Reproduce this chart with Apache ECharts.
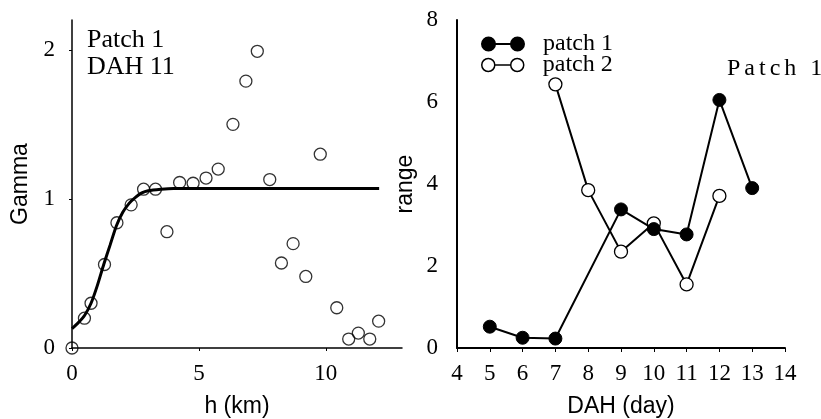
<!DOCTYPE html>
<html>
<head>
<meta charset="utf-8">
<script src="https://cdn.jsdelivr.net/npm/echarts@6/dist/echarts.min.js"></script>
<style>html,body{margin:0;padding:0;background:#fff}#c{width:821px;height:419px}</style>
</head>
<body>
<div id="c"></div>
<script>
// Left panel: semivariogram (h in km, gamma)
const hKm = [0, 0.49, 0.75, 1.28, 1.77, 2.33, 2.82, 3.29, 3.74, 4.24, 4.77, 5.28, 5.76, 6.34, 6.85, 7.30, 7.79, 8.25, 8.71, 9.21, 9.78, 10.43, 10.90, 11.28, 11.73, 12.08];
const gamma = [0, 0.20, 0.30, 0.56, 0.84, 0.96, 1.065, 1.065, 0.78, 1.11, 1.105, 1.14, 1.20, 1.50, 1.79, 1.99, 1.13, 0.57, 0.70, 0.48, 1.30, 0.27, 0.06, 0.10, 0.06, 0.18];
const fitH = [0, 0.25, 0.5, 0.75, 1.0, 1.25, 1.5, 1.75, 2.0, 2.25, 2.5, 2.75, 3.0, 3.5, 4.0, 12.1];
const fitGamma = [0.13, 0.17, 0.22, 0.30, 0.42, 0.56, 0.69, 0.82, 0.91, 0.97, 1.01, 1.04, 1.055, 1.065, 1.07, 1.07];
const leftXTicks = [0, 5, 10];
const leftYTicks = [0, 1, 2];

// Right panel: range by DAH
const days1 = [5, 6, 7, 9, 10, 11, 12, 13];
const range1 = [0.52, 0.25, 0.23, 3.38, 2.90, 2.77, 6.05, 3.90];
const days2 = [7, 8, 9, 10, 11, 12];
const range2 = [6.43, 3.85, 2.35, 3.04, 1.55, 3.71];
const rightXTicks = [4, 5, 6, 7, 8, 9, 10, 11, 12, 13, 14];
const rightYTicks = [0, 2, 4, 6, 8];

const SERIF = 'Liberation Serif';
const SANS = 'Liberation Sans';
const zip = (a, b) => a.map((v, i) => [v, b[i]]);
const HS = '\u200A';

const iconPath = 'path://M2,20A18,18 0 1,0 38,20A18,18 0 1,0 2,20Z M82,20A18,18 0 1,0 118,20A18,18 0 1,0 82,20Z M38,20L82,20';

const chart = echarts.init(document.getElementById('c'), null, {renderer: 'canvas'});
chart.setOption({
  animation: false,
  backgroundColor: '#fff',
  grid: [
    {left: 72, top: 20, width: 330, height: 328, outerBoundsMode: 'none', containLabel: false},
    {left: 457, top: 20, width: 328, height: 328, outerBoundsMode: 'none', containLabel: false}
  ],
  xAxis: [
    {
      gridIndex: 0, type: 'value', min: 0, max: 13,
      name: 'h (km)', nameLocation: 'middle', nameGap: 47,
      nameTextStyle: {fontFamily: SANS, fontSize: 23, color: '#000'},
      axisLine: {lineStyle: {color: '#000', width: 1.5}},
      axisTick: {show: true, length: 3, customValues: leftXTicks, lineStyle: {color: '#000'}},
      axisLabel: {customValues: leftXTicks, fontFamily: SERIF, fontSize: 23, color: '#000', margin: 14},
      splitLine: {show: false}
    },
    {
      gridIndex: 1, type: 'value', min: 4, max: 14, interval: 1,
      name: 'DAH (day)', nameLocation: 'middle', nameGap: 47,
      nameTextStyle: {fontFamily: SANS, fontSize: 23, color: '#000'},
      axisLine: {lineStyle: {color: '#000', width: 2}},
      axisTick: {show: true, length: 4, customValues: rightXTicks, lineStyle: {color: '#000'}},
      axisLabel: {customValues: rightXTicks, fontFamily: SERIF, fontSize: 23, color: '#000', margin: 14},
      splitLine: {show: false}
    }
  ],
  yAxis: [
    {
      gridIndex: 0, type: 'value', min: 0, max: 2.2,
      name: 'Gamma', nameLocation: 'middle', nameGap: 40,
      nameTextStyle: {fontFamily: SANS, fontSize: 23, color: '#000'},
      axisLine: {show: true, lineStyle: {color: '#000', width: 1.5}},
      axisTick: {show: true, length: 3, customValues: leftYTicks, lineStyle: {color: '#000'}},
      axisLabel: {customValues: leftYTicks, fontFamily: SERIF, fontSize: 23, color: '#000', margin: 17},
      splitLine: {show: false}
    },
    {
      gridIndex: 1, type: 'value', min: 0, max: 8, interval: 2,
      name: 'range', nameLocation: 'middle', nameGap: 40,
      nameTextStyle: {fontFamily: SANS, fontSize: 23, color: '#000'},
      axisLine: {show: true, lineStyle: {color: '#000', width: 2}},
      axisTick: {show: false},
      axisLabel: {customValues: rightYTicks, fontFamily: SERIF, fontSize: 23, color: '#000', margin: 19},
      splitLine: {show: false}
    }
  ],
  legend: [
    {
      left: 476, top: 27, orient: 'vertical', itemWidth: 42, itemHeight: 14,
      textStyle: {fontFamily: SERIF, fontSize: 24, color: '#000', lineHeight: 24, padding: [0, 0, 0, 14]},
      data: [{name: 'patch 1', icon: iconPath, itemStyle: {color: '#000', borderColor: '#000', borderWidth: 2}}],
      selectedMode: false
    },
    {
      left: 476, top: 48, orient: 'vertical', itemWidth: 42, itemHeight: 14,
      textStyle: {fontFamily: SERIF, fontSize: 24, color: '#000', lineHeight: 24, padding: [0, 0, 0, 14]},
      data: [{name: 'patch 2', icon: iconPath, itemStyle: {color: '#fff', borderColor: '#000', borderWidth: 1.5}}],
      selectedMode: false
    }
  ],
  graphic: [
    {type: 'text', left: 87, top: 27, style: {text: 'Patch 1', font: '26px "Liberation Serif"', fill: '#000'}},
    {type: 'text', left: 87, top: 54, style: {text: 'DAH 11', font: '26px "Liberation Serif"', fill: '#000'}},
    {type: 'text', left: 727, top: 57, style: {text: ['P','a','t','c','h',' ','1'].join(HS + HS), font: '24px "Liberation Serif"', fill: '#000'}}
  ],
  series: [
    {
      name: 'observed', type: 'scatter', xAxisIndex: 0, yAxisIndex: 0,
      data: zip(hKm, gamma), symbol: 'circle', symbolSize: 12,
      itemStyle: {color: 'rgba(0,0,0,0)', borderColor: '#000', borderWidth: 1.3}, z: 2
    },
    {
      name: 'fit', type: 'line', xAxisIndex: 0, yAxisIndex: 0,
      data: zip(fitH, fitGamma), showSymbol: false, symbol: 'none',
      smooth: 0.25,
      lineStyle: {color: '#000', width: 3}, z: 3
    },
    {
      name: 'patch 2', type: 'line', xAxisIndex: 1, yAxisIndex: 1,
      data: zip(days2, range2), symbol: 'circle', symbolSize: 13,
      itemStyle: {color: '#fff', borderColor: '#000', borderWidth: 1.3},
      lineStyle: {color: '#000', width: 2}, z: 2
    },
    {
      name: 'patch 1', type: 'line', xAxisIndex: 1, yAxisIndex: 1,
      data: zip(days1, range1), symbol: 'circle', symbolSize: 13,
      itemStyle: {color: '#000', borderColor: '#000', borderWidth: 1},
      lineStyle: {color: '#000', width: 2}, z: 3
    }
  ]
});
</script>
</body>
</html>
